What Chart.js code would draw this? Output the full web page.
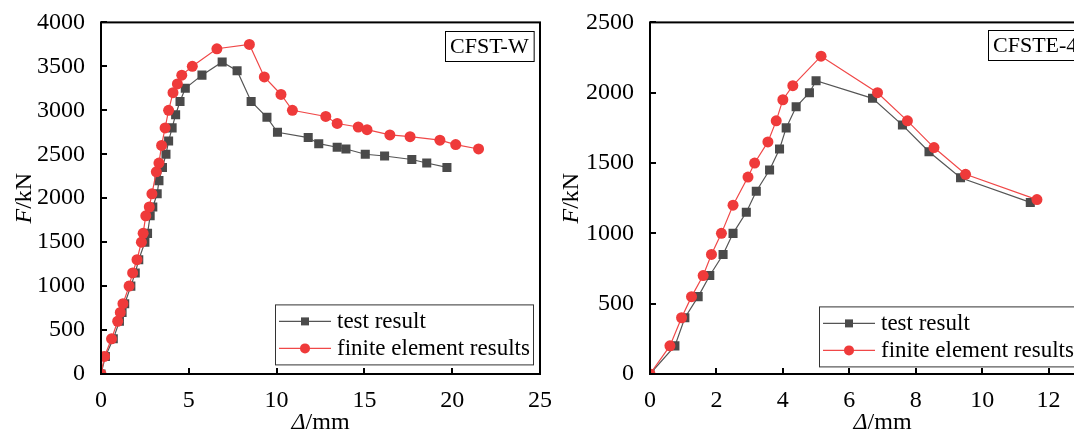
<!DOCTYPE html>
<html>
<head>
<meta charset="utf-8">
<script src="https://cdn.jsdelivr.net/npm/chart.js@4.4.1/dist/chart.umd.min.js"></script>
<style>
    html, body { margin: 0; padding: 0; background: #fff; overflow: hidden; }
    #wrap { position: relative; width: 1074px; height: 435px; overflow: hidden; }
    canvas { position: absolute; top: 0; }
</style>
</head>
<body>
<div id="wrap">
    <canvas id="chartW" width="560" height="435" style="left:0"></canvas>
    <canvas id="chartE" width="580" height="435" style="left:560px"></canvas>
</div>
<script>
// CFST-W : test result
const wTestDisp = [0, 0.25, 0.7, 1.05, 1.2, 1.35, 1.7, 1.95, 2.15, 2.5, 2.65, 2.8, 2.95, 3.2, 3.3, 3.5, 3.7, 3.85, 4.05, 4.25, 4.5, 4.8, 5.75, 6.9, 7.75, 8.55, 9.45, 10.05, 11.8, 12.4, 13.45, 13.95, 15.05, 16.15, 17.7, 18.55, 19.7];
const wTestLoad = [0, 200, 400, 600, 700, 800, 1000, 1150, 1300, 1500, 1600, 1800, 1900, 2050, 2200, 2350, 2500, 2650, 2800, 2950, 3100, 3250, 3400, 3550, 3450, 3100, 2920, 2750, 2690, 2620, 2580, 2560, 2500, 2480, 2440, 2400, 2350];
// CFST-W : finite element results
const wFeDisp = [0, 0.2, 0.6, 0.95, 1.1, 1.25, 1.6, 1.8, 2.05, 2.3, 2.4, 2.55, 2.75, 2.9, 3.15, 3.3, 3.45, 3.65, 3.85, 4.1, 4.35, 4.6, 5.2, 6.6, 8.45, 9.3, 10.25, 10.9, 12.8, 13.45, 14.65, 15.15, 16.45, 17.6, 19.3, 20.2, 21.5];
const wFeLoad = [0, 200, 400, 600, 700, 800, 1000, 1150, 1300, 1500, 1600, 1800, 1900, 2050, 2300, 2400, 2600, 2800, 3000, 3200, 3300, 3400, 3500, 3700, 3750, 3380, 3180, 3000, 2930, 2850, 2810, 2780, 2720, 2700, 2660, 2610, 2560];

// CFSTE-4 : test result
const eTestDisp = [0, 0.75, 1.05, 1.45, 1.8, 2.2, 2.5, 2.9, 3.2, 3.6, 3.9, 4.1, 4.4, 4.8, 5.0, 6.7, 7.6, 8.4, 9.35, 11.45];
const eTestLoad = [0, 200, 400, 550, 700, 850, 1000, 1150, 1300, 1450, 1600, 1750, 1900, 2000, 2085, 1960, 1770, 1580, 1395, 1220];
// CFSTE-4 : finite element results
const eFeDisp = [0, 0.6, 0.95, 1.25, 1.6, 1.85, 2.15, 2.5, 2.95, 3.15, 3.55, 3.8, 4.0, 4.3, 5.15, 6.85, 7.75, 8.55, 9.5, 11.65];
const eFeLoad = [0, 200, 400, 550, 700, 850, 1000, 1200, 1400, 1500, 1650, 1800, 1950, 2050, 2260, 2000, 1800, 1610, 1420, 1240];

const seriesNames = ['test result', 'finite element results'];
const FONT = "'Liberation Serif', 'Times New Roman', serif";

function toPoints(xs, ys) {
    return xs.map((x, i) => ({ x: x, y: ys[i] }));
}

// frame, inward ticks, axis titles, label box and boxed legend
const decorPlugin = {
    id: 'decor',
    afterDraw(chart, args, opts) {
        const ctx = chart.ctx;
        const a = chart.chartArea;
        const xs = chart.scales.x, ys = chart.scales.y;
        ctx.save();
        ctx.strokeStyle = '#000';
        ctx.lineWidth = 2;
        ctx.strokeRect(a.left, a.top, a.right - a.left, a.bottom - a.top);

        // inward tick marks
        ctx.beginPath();
        xs.ticks.forEach(t => {
            const px = Math.round(xs.getPixelForValue(t.value));
            ctx.moveTo(px, a.bottom); ctx.lineTo(px, a.bottom - 6);
        });
        ys.ticks.forEach(t => {
            const py = Math.round(ys.getPixelForValue(t.value));
            ctx.moveTo(a.left, py); ctx.lineTo(a.left + 6, py);
        });
        ctx.stroke();

        // axis titles: italic symbol + upright unit
        ctx.fillStyle = '#000';
        ctx.textBaseline = 'middle';
        const drawMixed = (sym, rest, cx, cy, rot) => {
            ctx.save();
            ctx.translate(cx, cy);
            ctx.rotate(rot);
            ctx.font = 'italic 24px ' + FONT;
            const w1 = ctx.measureText(sym).width;
            ctx.font = '24px ' + FONT;
            const w2 = ctx.measureText(rest).width;
            let x0 = -(w1 + w2) / 2;
            ctx.textAlign = 'left';
            ctx.font = 'italic 24px ' + FONT;
            ctx.fillText(sym, x0, 0);
            ctx.font = '24px ' + FONT;
            ctx.fillText(rest, x0 + w1, 0);
            ctx.restore();
        };
        drawMixed('\u0394', '/mm', (a.left + a.right) / 2, 423, 0);
        drawMixed('F', '/kN', opts.yTitleX, (a.top + a.bottom) / 2, -Math.PI / 2);

        // specimen label box
        ctx.font = '22px ' + FONT;
        ctx.textAlign = 'left';
        const lb = opts.label;
        const lw = ctx.measureText(lb.text).width;
        ctx.fillStyle = '#fff';
        ctx.fillRect(lb.x, lb.y, lw + 10, 30);
        ctx.lineWidth = 1;
        ctx.strokeStyle = '#000';
        ctx.strokeRect(lb.x + 0.5, lb.y + 0.5, lw + 10, 30);
        ctx.fillStyle = '#000';
        ctx.fillText(lb.text, lb.x + 5, lb.y + 16);

        // boxed legend
        const lg = opts.legend;
        const bx = a.left + lg.dx, by = a.top + lg.dy;
        ctx.strokeStyle = '#333';
        ctx.lineWidth = 1;
        ctx.strokeRect(bx + 0.5, by + 0.5, lg.w, 60);
        chart.data.datasets.forEach((ds, i) => {
            const ry = by + 17 + i * 27;
            ctx.strokeStyle = ds.borderColor;
            ctx.lineWidth = 1.2;
            ctx.beginPath();
            ctx.moveTo(bx + 4, ry); ctx.lineTo(bx + 56, ry);
            ctx.stroke();
            ctx.fillStyle = ds.pointBackgroundColor;
            ctx.beginPath();
            if (ds.pointStyle === 'rect') {
                ctx.rect(bx + 26, ry - 4, 8, 8);
            } else {
                ctx.arc(bx + 30, ry, 5, 0, Math.PI * 2);
            }
            ctx.fill();
            ctx.fillStyle = '#000';
            ctx.font = '23px ' + FONT;
            ctx.fillText(ds.label, bx + 62, ry + 1);
        });
        ctx.restore();
    }
};

function makeChart(id, cfg) {
    const ctx = document.getElementById(id).getContext('2d');
    return new Chart(ctx, {
        type: 'line',
        data: {
            datasets: [{
                label: seriesNames[0],
                data: toPoints(cfg.testDisp, cfg.testLoad),
                borderColor: '#555555',
                borderWidth: 1.2,
                pointStyle: 'rect',
                pointRadius: 6.4,
                pointBackgroundColor: '#4a4a4a',
                pointBorderColor: '#4a4a4a',
                pointBorderWidth: 0,
                order: 2
            }, {
                label: seriesNames[1],
                data: toPoints(cfg.feDisp, cfg.feLoad),
                borderColor: '#f04848',
                borderWidth: 1.2,
                pointStyle: 'circle',
                pointRadius: 5.5,
                pointBackgroundColor: '#ef3a3a',
                pointBorderColor: '#ef3a3a',
                pointBorderWidth: 0,
                order: 1
            }]
        },
        options: {
            responsive: false,
            animation: false,
            layout: { padding: { left: 0, top: 22, right: cfg.padRight, bottom: 0 } },
            scales: {
                x: {
                    type: 'linear', min: 0, max: cfg.xMax,
                    grid: { display: false },
                    border: { display: false },
                    ticks: { stepSize: cfg.xStep, color: '#000', padding: 4, font: { family: FONT, size: 24 }, callback: v => String(v) },
                    afterFit: s => { s.height = 61; }
                },
                y: {
                    min: 0, max: cfg.yMax,
                    grid: { display: false },
                    border: { display: false },
                    ticks: { stepSize: 500, color: '#000', padding: 8, font: { family: FONT, size: 24 }, callback: v => String(v) },
                    afterFit: s => { s.width = cfg.yWidth; }
                }
            },
            plugins: {
                legend: { display: false },
                tooltip: { enabled: false },
                decor: cfg.decor
            }
        },
        plugins: [decorPlugin]
    });
}

makeChart('chartW', {
    testDisp: wTestDisp, testLoad: wTestLoad, feDisp: wFeDisp, feLoad: wFeLoad,
    xMax: 25, xStep: 5, yMax: 4000, yWidth: 101, padRight: 20,
    decor: {
        yTitleX: 25,
        label: { text: 'CFST-W', x: 445, y: 31 },
        legend: { dx: 174, dy: 282, w: 258 }
    }
});

makeChart('chartE', {
    testDisp: eTestDisp, testLoad: eTestLoad, feDisp: eFeDisp, feLoad: eFeLoad,
    xMax: 14, xStep: 2, yMax: 2500, yWidth: 90, padRight: 25,
    decor: {
        yTitleX: 12,
        label: { text: 'CFSTE-4', x: 428, y: 30 },
        legend: { dx: 169, dy: 284, w: 258 }
    }
});
</script>
</body>
</html>
